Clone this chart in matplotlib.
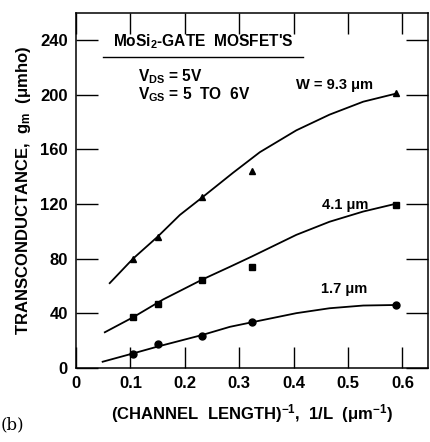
import matplotlib
matplotlib.use('Agg')
import matplotlib.pyplot as plt

plt.rcParams['font.family'] = ['Liberation Sans', 'DejaVu Sans']
plt.rcParams['font.weight'] = 'bold'
plt.rcParams['axes.labelweight'] = 'bold'
plt.rcParams['mathtext.fontset'] = 'custom'
plt.rcParams['mathtext.rm'] = 'Liberation Sans:bold'
plt.rcParams['mathtext.it'] = 'Liberation Sans:bold'
plt.rcParams['mathtext.bf'] = 'Liberation Sans:bold'

# measured points (1/L in um^-1, gm in umho)
x_pts = [0.105, 0.150, 0.232, 0.323, 0.588]
gm_93 = [80, 96, 125, 144, 201]
gm_41 = [37, 47, 64.5, 74, 119.5]
gm_17 = [10, 17.4, 23.5, 33.3, 45.8]

# hand-drawn fit curves
c93_x = [0.062, 0.105, 0.150, 0.191, 0.231, 0.289, 0.338, 0.405, 0.466, 0.528, 0.589]
c93_y = [62, 80, 96, 112, 124.5, 143, 158, 174, 185.5, 195, 201]
c41_x = [0.053, 0.105, 0.160, 0.234, 0.283, 0.323, 0.405, 0.466, 0.528, 0.586]
c41_y = [26, 37, 50, 65, 74, 81.5, 97.4, 107, 114.5, 120]
c17_x = [0.049, 0.105, 0.150, 0.232, 0.283, 0.323, 0.405, 0.466, 0.528, 0.589]
c17_y = [4.4, 10.5, 15.5, 24, 30, 33.3, 40, 43.6, 45.6, 46]

fig = plt.figure(figsize=(4.30, 4.42), dpi=100)
ax = fig.add_axes([0.1767, 0.168, 0.8186, 0.8026])

ax.plot(c93_x, c93_y, color='black', lw=1.3)
ax.plot(c41_x, c41_y, color='black', lw=1.3)
ax.plot(c17_x, c17_y, color='black', lw=1.3)
ax.plot(x_pts, gm_93, '^', color='black', ms=5)
ax.plot(x_pts, gm_41, 's', color='black', ms=5)
ax.plot(x_pts, gm_17, 'o', color='black', ms=5)

ax.set_xlim(0, 0.647)
ax.set_ylim(0, 260)
ax.set_xticks([0, 0.1, 0.2, 0.3, 0.4, 0.5, 0.6])
ax.set_xticklabels(['0', '0.1', '0.2', '0.3', '0.4', '0.5', '0.6'])
ax.set_yticks([0, 40, 80, 120, 160, 200, 240])
ax.tick_params(direction='in', length=15, width=1, top=True, right=True,
               labelsize=12, pad=6)
ax.tick_params(axis='y', length=16, pad=6)
for s in ax.spines.values():
    s.set_linewidth(1.1)

ax.set_xlabel(r'(CHANNEL  LENGTH)$^{-1}$,  1/L  ($\mu$m$^{-1}$)', fontsize=12, labelpad=8)
ax.set_ylabel(r'TRANSCONDUCTANCE,  g$_{\rm m}$  ($\mu$mho)', fontsize=12, labelpad=5)

ax.text(0.068, 235.6, r"MoSi$_2$-GATE  MOSFET'S", fontsize=11.2, va='baseline', ha='left')
ax.plot([0.05, 0.417], [228, 228], color='black', lw=1)
ax.text(0.114, 210, r'V$_{\rm DS}$ = 5V', fontsize=11.2, va='baseline', ha='left')
ax.text(0.114, 196.5, r'V$_{\rm GS}$ = 5  TO  6V', fontsize=11.2, va='baseline', ha='left')

ax.text(0.405, 204.5, 'W = 9.3 μm', fontsize=10.5, va='baseline', ha='left')
ax.text(0.452, 116.5, '4.1 μm', fontsize=10.5, va='baseline', ha='left')
ax.text(0.451, 54.5, '1.7 μm', fontsize=10.5, va='baseline', ha='left')

fig.text(0.002, 0.028, '(b)', fontsize=12, family='DejaVu Serif', weight='normal')

fig.savefig('out.png', dpi=100)
